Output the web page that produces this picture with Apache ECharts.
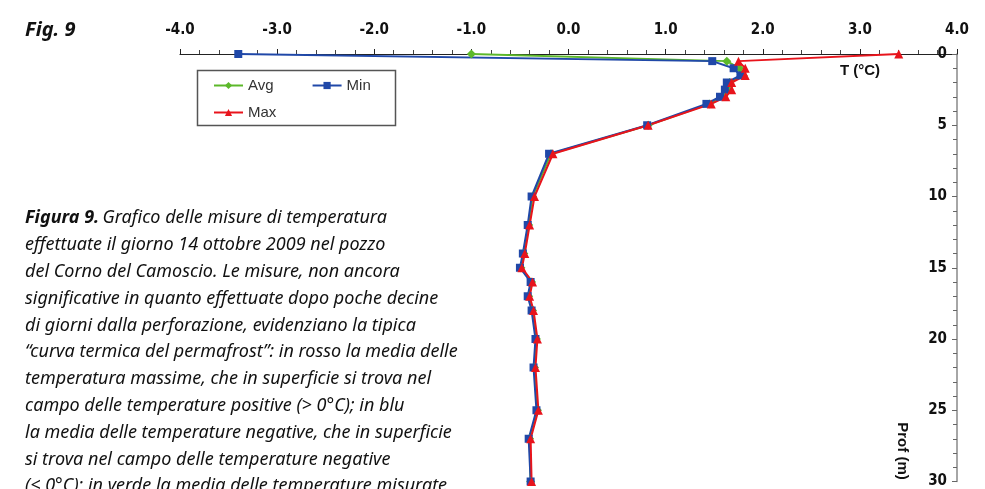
<!DOCTYPE html>
<html>
<head>
<meta charset="utf-8">
<script src="https://cdn.jsdelivr.net/npm/echarts@6/dist/echarts.min.js"></script>
<style>
html,body{margin:0;padding:0;background:#fff;overflow:hidden;}
#chart{width:985px;height:489px;}
</style>
</head>
<body>
<div id="chart"></div>
<script>
// Depth (m) of each measurement
var depths = [0, 0.5, 1, 1.5, 2, 2.5, 3, 3.5, 5, 7, 10, 12, 14, 15, 16, 17, 18, 20, 22, 25, 27, 30];
// Temperatures (°C)
var avgT = [-1.0, 1.63, 1.76, 1.80, 1.66, 1.65, 1.59, 1.45, 0.82, -0.18, -0.37, -0.41, -0.46, -0.49, -0.38, -0.41, -0.37, -0.33, -0.35, -0.32, -0.40, -0.39];
var minT = [-3.4, 1.48, 1.70, 1.77, 1.63, 1.61, 1.56, 1.42, 0.81, -0.20, -0.38, -0.42, -0.47, -0.50, -0.39, -0.42, -0.38, -0.34, -0.36, -0.33, -0.41, -0.39];
var maxT = [3.4, 1.75, 1.82, 1.82, 1.68, 1.68, 1.62, 1.47, 0.82, -0.16, -0.35, -0.40, -0.45, -0.48, -0.37, -0.40, -0.36, -0.32, -0.34, -0.31, -0.39, -0.38];
var seriesNames = ['Avg', 'Min', 'Max'];
var xTicks = [-4, -3, -2, -1, 0, 1, 2, 3, 4];

var captionLines = [
  'effettuate il giorno 14 ottobre 2009 nel pozzo',
  'del Corno del Camoscio. Le misure, non ancora',
  'significative in quanto effettuate dopo poche decine',
  'di giorni dalla perforazione, evidenziano la tipica',
  '\u201Ccurva termica del permafrost\u201D: in rosso la media delle',
  'temperatura massime, che in superficie si trova nel',
  'campo delle temperature positive (> 0°C); in blu',
  'la media delle temperature negative, che in superficie',
  'si trova nel campo delle temperature negative',
  '(< 0°C); in verde la media delle temperature misurate'
];

function pairs(xs) { return xs.map(function (v, i) { return [v, depths[i]]; }); }

var capFont = "'Noto Sans', 'Open Sans', sans-serif";
var capSize = 18;
var graphics = [
  { type: 'text', x: 25, y: 30, style: { text: 'Fig. 9', font: "italic bold 20px 'Noto Sans', sans-serif", fill: '#111', verticalAlign: 'middle' } },
  { type: 'text', x: 25, y: 218, style: {
      text: '{b|Figura 9.} {i|Grafico delle misure di temperatura}',
      verticalAlign: 'middle',
      rich: {
        b: { font: "italic bold " + capSize + "px " + capFont, fill: '#111' },
        i: { font: "italic " + capSize + "px " + capFont, fill: '#111' }
      } } },
  { type: 'rect', left: 195, top: 68, shape: { width: 198, height: 55 }, style: { fill: 'none', stroke: '#555', lineWidth: 1.5 } },
  { type: 'text', x: 860, y: 71, style: { text: 'T (°C)', font: "bold 15px 'Liberation Sans', sans-serif", fill: '#111', align: 'center', verticalAlign: 'middle' } },
  { type: 'text', x: 902, y: 451, rotation: -Math.PI / 2, style: { text: 'Prof (m)', font: "bold 15px 'Liberation Sans', sans-serif", fill: '#111', align: 'center', verticalAlign: 'middle' } }
];
captionLines.forEach(function (t, i) {
  graphics.push({ type: 'text', x: 25, y: 245 + i * 26.8, style: { text: t, font: "italic " + capSize + "px " + capFont, fill: '#111', verticalAlign: 'middle' } });
});

var legendText = { fontSize: 15, fontFamily: "'Liberation Sans', Arial, sans-serif", color: '#333' };
var chart = echarts.init(document.getElementById('chart'));
chart.setOption({
  animation: false,
  backgroundColor: '#fff',
  grid: { left: 180, right: 28, top: 54, bottom: 5, containLabel: false },
  legend: [
    { data: ['Avg', 'Min'], left: 208, top: 73, itemGap: 38, itemWidth: 29, itemHeight: 9, textStyle: legendText },
    { data: ['Max'], left: 208, top: 100, itemWidth: 29, itemHeight: 9, textStyle: legendText }
  ],
  xAxis: {
    type: 'value', position: 'top', min: xTicks[0], max: xTicks[xTicks.length - 1], interval: 1,
    axisLine: { show: true, onZero: false, lineStyle: { color: '#222', width: 1.2 } },
    axisTick: { show: true, length: 5, lineStyle: { color: '#222' } },
    minorTick: { show: true, splitNumber: 5, length: 4, lineStyle: { color: '#444' } },
    splitLine: { show: false },
    axisLabel: { margin: 16, formatter: function (v) { return v.toFixed(1); },
      fontWeight: 'bold', fontSize: 15, color: '#111', fontFamily: "'Liberation Sans Narrow', 'DejaVu Sans Condensed', sans-serif" }
  },
  yAxis: {
    type: 'value', position: 'right', inverse: true, min: 0, max: 30, interval: 5,
    axisLine: { show: true, onZero: false, lineStyle: { color: '#888', width: 1.5 } },
    axisTick: { show: true, inside: true, length: 5, lineStyle: { color: '#666' } },
    minorTick: { show: true, splitNumber: 5, length: 4, lineStyle: { color: '#666' } },
    splitLine: { show: false },
    axisLabel: { inside: true, margin: 10, fontWeight: 'bold', fontSize: 15, color: '#111',
      fontFamily: "'Liberation Sans Narrow', 'DejaVu Sans Condensed', sans-serif" }
  },
  graphic: graphics,
  series: [
    { name: seriesNames[0], type: 'line', data: pairs(avgT), symbol: 'diamond', symbolSize: 9,
      itemStyle: { color: '#5cb82a' }, lineStyle: { color: '#5cb82a', width: 2 } },
    { name: seriesNames[1], type: 'line', data: pairs(minT), symbol: 'rect', symbolSize: 8,
      itemStyle: { color: '#2048a8' }, lineStyle: { color: '#2048a8', width: 2 } },
    { name: seriesNames[2], type: 'line', data: pairs(maxT), symbol: 'triangle', symbolSize: 9,
      itemStyle: { color: '#e8141c' }, lineStyle: { color: '#e8141c', width: 2 } }
  ]
});
</script>
</body>
</html>
